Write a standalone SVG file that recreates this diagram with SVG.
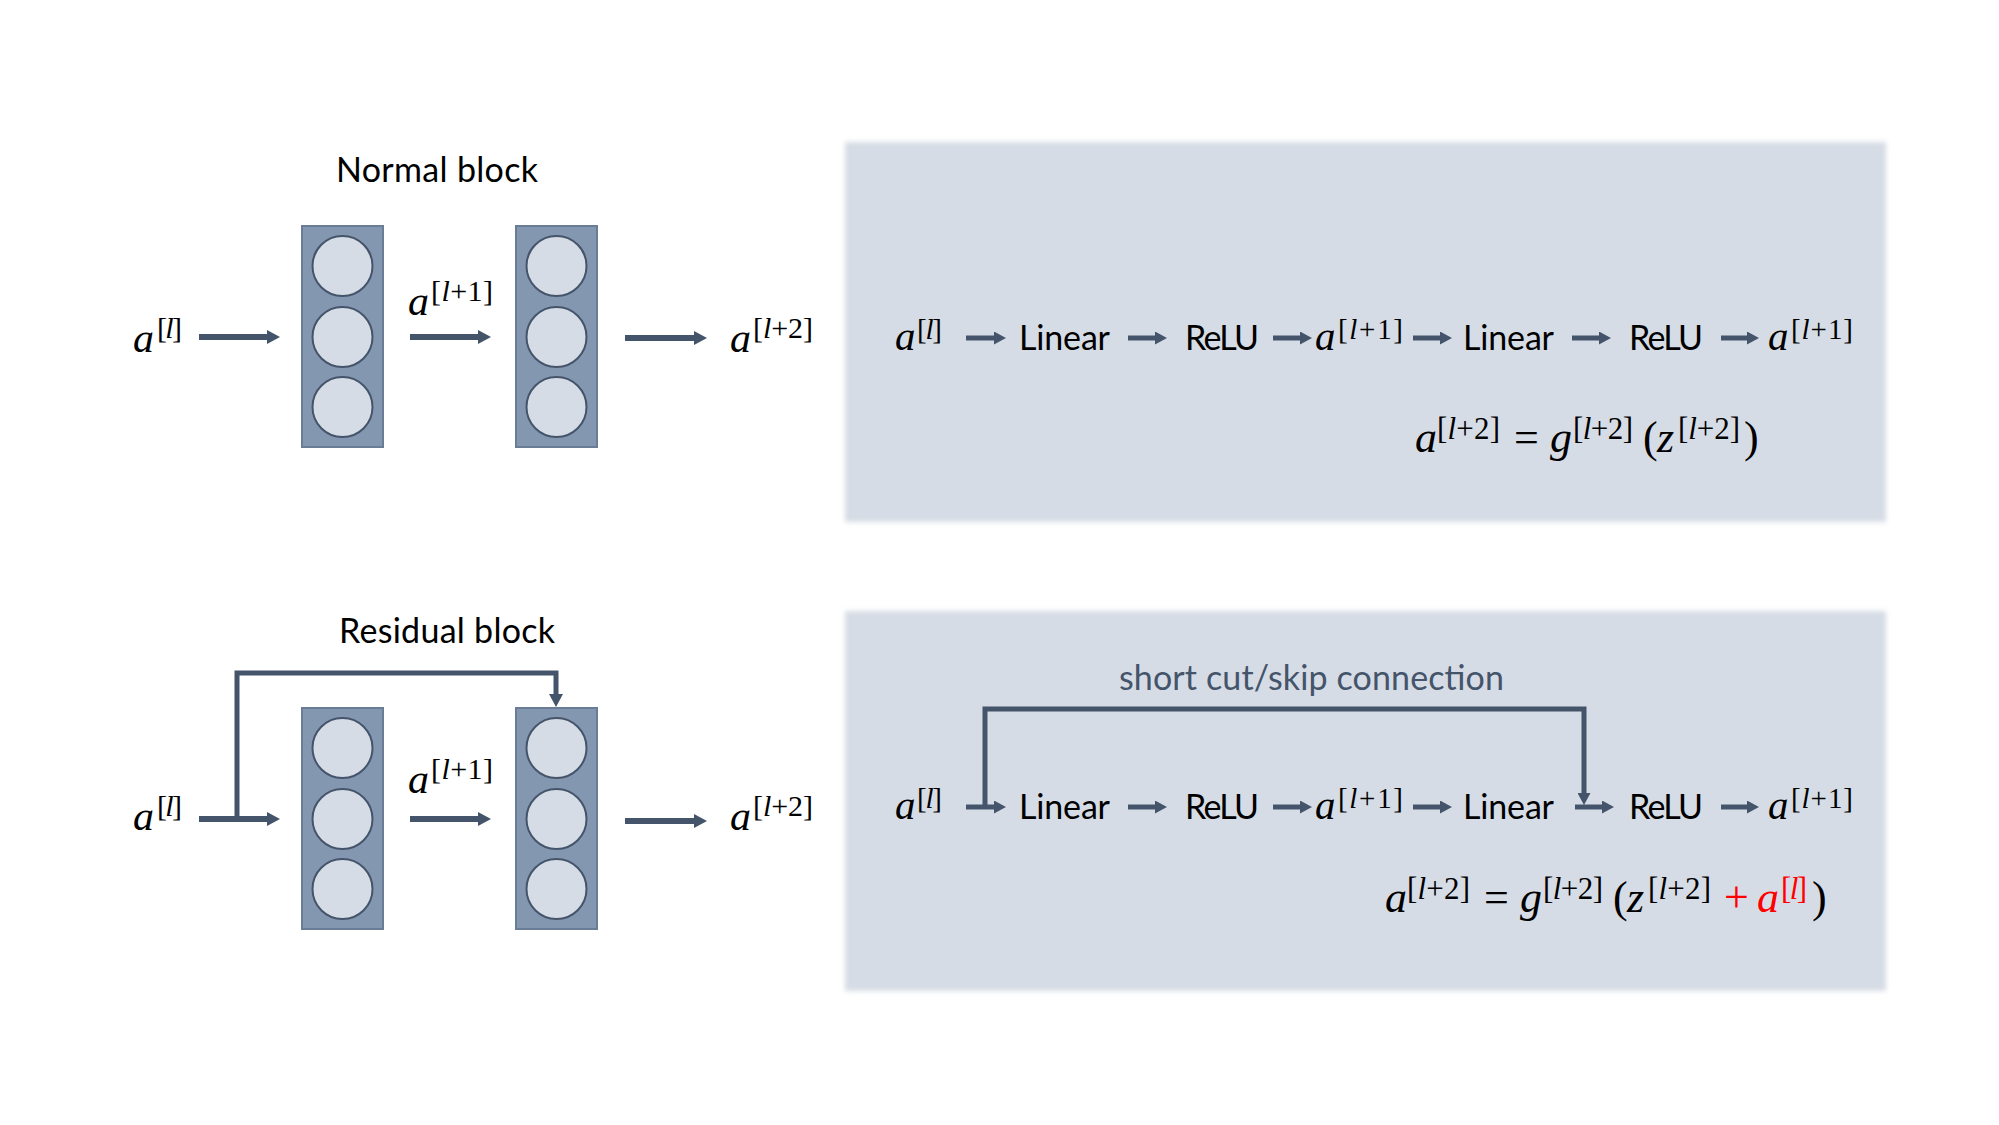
<svg xmlns="http://www.w3.org/2000/svg" width="1999" height="1125" viewBox="0 0 1999 1125">
<defs>
<style>
.t{font-family:Lato,"Open Sans","Liberation Sans",sans-serif;fill:#000}
.m{font-family:"Liberation Serif",serif;font-style:italic;fill:#000}
.s{font-family:"Liberation Serif",serif;font-style:normal;fill:#000}
.i{font-style:italic}
.red{fill:#ff0000}
.arrl{stroke:#44546a;stroke-width:6;fill:none;marker-end:url(#ah)}
.sc{stroke:#44546a;stroke-width:5;fill:none;marker-end:url(#ah)}
.arrs{stroke:#44546a;stroke-width:5;fill:none;marker-end:url(#ahs)}
.layer{fill:#8497b0;stroke:#6a7c96;stroke-width:2}
.neuron{fill:#d6dce5;stroke:#44546a;stroke-width:2}
.panel{fill:#d6dce5}
</style>
<marker id="ah" viewBox="0 0 13 14" markerWidth="13" markerHeight="14" refX="1" refY="7" orient="auto" markerUnits="userSpaceOnUse">
<path d="M0,0 L13,7 L0,14 z" fill="#44546a"/>
</marker>
<marker id="ahs" viewBox="0 0 12 13" markerWidth="12" markerHeight="13" refX="1" refY="6.5" orient="auto" markerUnits="userSpaceOnUse">
<path d="M0,0 L12,6.5 L0,13 z" fill="#44546a"/>
</marker>
<filter id="soft" x="-2%" y="-3%" width="104%" height="106%">
<feGaussianBlur stdDeviation="2.5"/>
</filter>
</defs>
<rect width="1999" height="1125" fill="#ffffff"/>

<!-- Panels -->
<g id="panel-normal"><rect class="panel" x="845" y="142" width="1041" height="380" filter="url(#soft)"/></g>
<g id="panel-residual"><rect class="panel" x="845" y="611" width="1041" height="380" filter="url(#soft)"/></g>

<!-- Titles -->
<g id="title-normal"><text class="t" x="336" y="182" font-size="34" textLength="202">Normal block</text></g>
<g id="title-residual"><text class="t" x="339" y="643" font-size="34" textLength="216">Residual block</text></g>

<!-- Normal block layers -->
<g id="normal-layer1">
<rect class="layer" x="302" y="226" width="81" height="221"/>
<circle class="neuron" cx="342.5" cy="266" r="30"/>
<circle class="neuron" cx="342.5" cy="337" r="30"/>
<circle class="neuron" cx="342.5" cy="407" r="30"/>
</g>
<g id="normal-layer2">
<rect class="layer" x="516" y="226" width="81" height="221"/>
<circle class="neuron" cx="556.5" cy="266" r="30"/>
<circle class="neuron" cx="556.5" cy="337" r="30"/>
<circle class="neuron" cx="556.5" cy="407" r="30"/>
</g>

<!-- Residual block layers -->
<g id="residual-layer1">
<rect class="layer" x="302" y="708" width="81" height="221"/>
<circle class="neuron" cx="342.5" cy="748" r="30"/>
<circle class="neuron" cx="342.5" cy="819" r="30"/>
<circle class="neuron" cx="342.5" cy="889" r="30"/>
</g>
<g id="residual-layer2">
<rect class="layer" x="516" y="708" width="81" height="221"/>
<circle class="neuron" cx="556.5" cy="748" r="30"/>
<circle class="neuron" cx="556.5" cy="819" r="30"/>
<circle class="neuron" cx="556.5" cy="889" r="30"/>
</g>

<!-- Left labels -->
<g id="labels-normal">
<text class="m" x="133" y="352" font-size="42">a</text>
<text class="s" x="157" y="338" font-size="30" textLength="25">[<tspan class="i">l</tspan>]</text>
<text class="m" x="408" y="315" font-size="42">a</text>
<text class="s" x="431" y="301" font-size="30" textLength="62">[<tspan class="i">l</tspan>+1]</text>
<text class="m" x="730" y="352" font-size="42">a</text>
<text class="s" x="753" y="338" font-size="30" textLength="60">[<tspan class="i">l</tspan>+2]</text>
</g>
<g id="labels-residual">
<text class="m" x="133" y="830" font-size="42">a</text>
<text class="s" x="157" y="816" font-size="30" textLength="25">[<tspan class="i">l</tspan>]</text>
<text class="m" x="408" y="793" font-size="42">a</text>
<text class="s" x="431" y="779" font-size="30" textLength="62">[<tspan class="i">l</tspan>+1]</text>
<text class="m" x="730" y="830" font-size="42">a</text>
<text class="s" x="753" y="816" font-size="30" textLength="60">[<tspan class="i">l</tspan>+2]</text>
</g>

<!-- Right panel: normal row -->
<g id="row-normal">
<text class="m" x="895" y="350" font-size="41">a</text>
<text class="s" x="917" y="339" font-size="29" textLength="25">[<tspan class="i">l</tspan>]</text>
<text class="t" x="1019" y="350" font-size="34" textLength="91">Linear</text>
<text class="t" x="1185" y="350" font-size="34" textLength="74">ReLU</text>
<text class="m" x="1315" y="350" font-size="41">a</text>
<text class="s" x="1338" y="339" font-size="29" textLength="65">[<tspan class="i">l</tspan>+1]</text>
<text class="t" x="1463" y="350" font-size="34" textLength="91">Linear</text>
<text class="t" x="1629" y="350" font-size="34" textLength="74">ReLU</text>
<text class="m" x="1768" y="350" font-size="41">a</text>
<text class="s" x="1791" y="339" font-size="29" textLength="62">[<tspan class="i">l</tspan>+1]</text>
</g>
<g id="formula-normal">
<text class="m" x="1415" y="452" font-size="44">a</text>
<text class="s" x="1437" y="439" font-size="31" textLength="63">[<tspan class="i">l</tspan>+2]</text>
<text class="s" x="1514" y="452" font-size="44">=</text>
<text class="m" x="1550" y="452" font-size="44">g</text>
<text class="s" x="1573" y="439" font-size="31" textLength="60">[<tspan class="i">l</tspan>+2]</text>
<text class="s" x="1643" y="452" font-size="44">(</text>
<text class="m" x="1657" y="452" font-size="44">z</text>
<text class="s" x="1678" y="439" font-size="31" textLength="62">[<tspan class="i">l</tspan>+2]</text>
<text class="s" x="1744" y="452" font-size="44">)</text>
</g>

<!-- Right panel: residual row -->
<g id="shortcut-label"><text class="t" x="1119" y="690" font-size="34" style="fill:#44546a" textLength="385">short cut/skip connection</text></g>
<g id="row-residual">
<text class="m" x="895" y="819" font-size="41">a</text>
<text class="s" x="917" y="808" font-size="29" textLength="25">[<tspan class="i">l</tspan>]</text>
<text class="t" x="1019" y="819" font-size="34" textLength="91">Linear</text>
<text class="t" x="1185" y="819" font-size="34" textLength="74">ReLU</text>
<text class="m" x="1315" y="819" font-size="41">a</text>
<text class="s" x="1338" y="808" font-size="29" textLength="65">[<tspan class="i">l</tspan>+1]</text>
<text class="t" x="1463" y="819" font-size="34" textLength="91">Linear</text>
<text class="t" x="1629" y="819" font-size="34" textLength="74">ReLU</text>
<text class="m" x="1768" y="819" font-size="41">a</text>
<text class="s" x="1791" y="808" font-size="29" textLength="62">[<tspan class="i">l</tspan>+1]</text>
</g>
<g id="formula-residual">
<text class="m" x="1385" y="912" font-size="44">a</text>
<text class="s" x="1407" y="899" font-size="31" textLength="63">[<tspan class="i">l</tspan>+2]</text>
<text class="s" x="1484" y="912" font-size="44">=</text>
<text class="m" x="1520" y="912" font-size="44">g</text>
<text class="s" x="1543" y="899" font-size="31" textLength="60">[<tspan class="i">l</tspan>+2]</text>
<text class="s" x="1613" y="912" font-size="44">(</text>
<text class="m" x="1627" y="912" font-size="44">z</text>
<text class="s" x="1648" y="899" font-size="31" textLength="63">[<tspan class="i">l</tspan>+2]</text>
<text class="s red" x="1724" y="912" font-size="44">+</text>
<text class="m red" x="1757" y="912" font-size="44">a</text>
<text class="s red" x="1781" y="899" font-size="31" textLength="26">[<tspan class="i">l</tspan>]</text>
<text class="s" x="1812" y="912" font-size="44">)</text>
</g>

<!-- Connectors -->
<g id="connectors">
<line class="arrl" x1="199" y1="337" x2="268" y2="337"/>
<line class="arrl" x1="410" y1="337" x2="479" y2="337"/>
<line class="arrl" x1="625" y1="338" x2="695" y2="338"/>

<line class="arrl" x1="199" y1="819" x2="268" y2="819"/>
<line class="arrl" x1="410" y1="819" x2="479" y2="819"/>
<line class="arrl" x1="625" y1="821" x2="695" y2="821"/>
<path class="sc" d="M237,819 V673 H556 V695"/>

<line class="arrs" x1="966" y1="338" x2="995" y2="338"/>
<line class="arrs" x1="1128" y1="338" x2="1156" y2="338"/>
<line class="arrs" x1="1273" y1="338" x2="1301" y2="338"/>
<line class="arrs" x1="1413" y1="338" x2="1441" y2="338"/>
<line class="arrs" x1="1572" y1="338" x2="1600" y2="338"/>
<line class="arrs" x1="1721" y1="338" x2="1748" y2="338"/>

<line class="arrs" x1="966" y1="807" x2="995" y2="807"/>
<line class="arrs" x1="1128" y1="807" x2="1156" y2="807"/>
<line class="arrs" x1="1273" y1="807" x2="1301" y2="807"/>
<line class="arrs" x1="1413" y1="807" x2="1441" y2="807"/>
<line class="arrs" x1="1575" y1="807" x2="1603" y2="807"/>
<line class="arrs" x1="1721" y1="807" x2="1748" y2="807"/>
<path class="arrs" d="M985,807 V709 H1584 V794"/>
</g>
</svg>
